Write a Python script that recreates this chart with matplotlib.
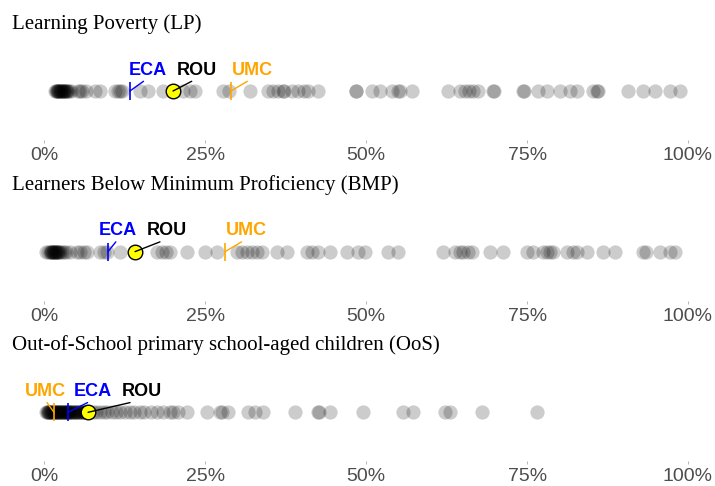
import matplotlib
matplotlib.use('Agg')
import matplotlib.pyplot as plt
from matplotlib.ticker import FuncFormatter

# data (percent values)
panel_titles = ['Learning Poverty (LP)',
                'Learners Below Minimum Proficiency (BMP)',
                'Out-of-School primary school-aged children (OoS)']

lp_countries = [1.7, 1.8, 1.9, 2.0, 2.1, 2.2, 2.3, 2.4, 2.5, 2.6, 2.7, 2.8, 2.9,
                3.0, 3.1, 3.2, 3.3, 3.5, 3.6, 3.8, 4.1, 5.2, 5.5, 5.9, 6.5,
                7.9, 8.7, 11.0, 11.5, 11.8, 12.1, 14.9, 16.1, 18.4, 21.5, 22.6,
                23.4, 27.8, 28.7, 32.0, 34.8, 35.5, 36.3, 37.1, 37.2, 38.5,
                39.4, 40.3, 40.9, 42.5, 48.4, 48.5, 50.9, 52.1, 54.0, 54.9,
                55.3, 57.1, 62.7, 64.6, 65.4, 66.0, 66.6, 67.4, 69.7, 69.8,
                74.4, 74.5, 76.7, 78.1, 80.1, 81.7, 82.8, 85.2, 85.9, 86.0,
                90.7, 93.0, 94.9, 97.2, 98.8]
bmp_countries = [0.3, 0.6, 0.9, 1.0, 1.1, 1.2, 1.3, 1.4, 1.5, 1.6, 1.7, 1.8, 1.9,
                 2.0, 2.1, 2.3, 2.4, 2.7, 3.1, 3.4, 4.0, 5.1, 5.5, 6.2, 6.6,
                 8.7, 9.3, 9.7, 11.8, 17.5, 18.3, 18.9, 19.5, 22.2, 25.0, 26.8,
                 29.9, 30.7, 31.5, 32.3, 33.0, 33.8, 36.2, 37.7, 40.8, 41.6,
                 42.5, 44.4, 47.0, 48.7, 49.8, 53.4, 54.9, 62.0, 63.8, 64.6,
                 65.0, 65.8, 66.4, 69.2, 71.3, 75.0, 75.9, 77.5, 78.1, 78.6,
                 79.0, 81.2, 82.1, 82.8, 84.3, 86.8, 88.7, 93.0, 93.5, 95.6,
                 97.2, 98.0]
oos_countries = [0.3, 0.4, 0.5, 0.6, 0.7, 0.8, 0.9, 1.0, 1.1, 1.2, 1.3, 1.4, 1.5,
                 1.6, 1.7, 1.8, 1.9, 2.0, 2.1, 2.2, 2.3, 2.4, 2.5, 2.6, 2.7,
                 2.8, 2.9, 3.0, 3.1, 3.2, 3.3, 3.4, 3.5, 3.6, 3.7, 3.8, 3.9,
                 4.0, 4.1, 4.2, 4.4, 4.5, 4.7, 4.8, 5.0, 5.1, 5.3, 5.4, 5.6,
                 5.7, 5.9, 6.0, 6.2, 6.3, 6.5, 6.6, 7.0, 7.5, 8.0, 8.6, 9.2,
                 9.8, 10.5, 11.2, 11.8, 12.5, 13.3, 14.0, 14.8, 15.5, 16.5,
                 17.5, 18.5, 19.5, 20.0, 20.8, 22.2, 25.3, 27.3, 27.6, 28.5,
                 31.6, 32.7, 34.0, 38.9, 42.5, 42.6, 44.4, 49.5, 55.7, 57.3,
                 62.2, 63.0, 68.0, 76.5]
panel_values = [lp_countries, bmp_countries, oos_countries]

rou_values = [20.0, 14.1, 6.8]
eca_values = [13.3, 9.9, 3.7]
umc_values = [29.0, 28.1, 1.5]

# label offsets in pixels (x, y) from the marker
rou_offsets = [(24, 21), (32, 21), (54, 21)]
eca_offsets = [(17.5, 21), (10, 21), (25, 21)]
umc_offsets = [(21, 21), (21, 21), (-9, 21)]

ticks = [0, 25, 50, 75, 100]

W, H = 715, 486
fig = plt.figure(figsize=(W / 100, H / 100), dpi=100)

px = 0.72  # pixel -> points
ppct = 6.437  # pixels per percent (0% at x=44.3)
x_left, x_right = 30, 705
panel_top = [42, 202.6, 363.3]  # top of each axes in pixels
for i in range(3):
    top = panel_top[i]
    ax = fig.add_axes([x_left / W, 1 - (top + 98) / H, (x_right - x_left) / W, 98 / H])
    ax.set_xlim((x_left - 44.3) / ppct, (x_right - 44.3) / ppct)
    ax.set_ylim(0, 1)
    for s in ax.spines.values():
        s.set_visible(False)
    ax.set_yticks([])
    ax.set_xticks(ticks)
    ax.xaxis.set_major_formatter(FuncFormatter(lambda v, p: f'{v:.0f}%'))
    ax.tick_params(axis='x', length=2.5, width=0.5, color='#999999', pad=2.5,
                   labelsize=14, labelcolor='#4d4d4d')
    for lab in ax.get_xticklabels():
        lab.set_family('Liberation Sans')

    # all countries
    vals = panel_values[i]
    ax.scatter(vals, [0.5] * len(vals), s=105, color='black', alpha=0.2,
               linewidths=0, clip_on=False, zorder=2)
    # region / income group averages
    ax.plot([eca_values[i]], [0.5], marker='|', markersize=13, mew=1.2,
            color='#0000ff', zorder=3, clip_on=False)
    ax.plot([umc_values[i]], [0.5], marker='|', markersize=13, mew=1.2,
            color='#ffa500', zorder=3, clip_on=False)
    # Romania
    ax.plot([rou_values[i]], [0.5], marker='o', markersize=10.5, mfc='#ffff00',
            mec='black', mew=1, zorder=4, clip_on=False)

    for val, off, txt, col in [(eca_values[i], eca_offsets[i], 'ECA', '#0000ff'),
                               (rou_values[i], rou_offsets[i], 'ROU', 'black'),
                               (umc_values[i], umc_offsets[i], 'UMC', '#ffa500')]:
        ax.annotate(txt, xy=(val, 0.5), xytext=(off[0] * px, off[1] * px),
                    textcoords='offset points', ha='center', va='center',
                    fontsize=13, fontweight='bold', color=col,
                    family='Liberation Sans', zorder=5,
                    arrowprops=dict(arrowstyle='-', color=col, lw=1,
                                    relpos=(0.5, 0.0), shrinkA=0, shrinkB=0))

    # panel title
    fig.text(12 / W, 1 - (top - 13) / H, panel_titles[i], family='Liberation Serif',
             fontsize=15, va='baseline', ha='left')

fig.savefig('out.png', dpi=100)
